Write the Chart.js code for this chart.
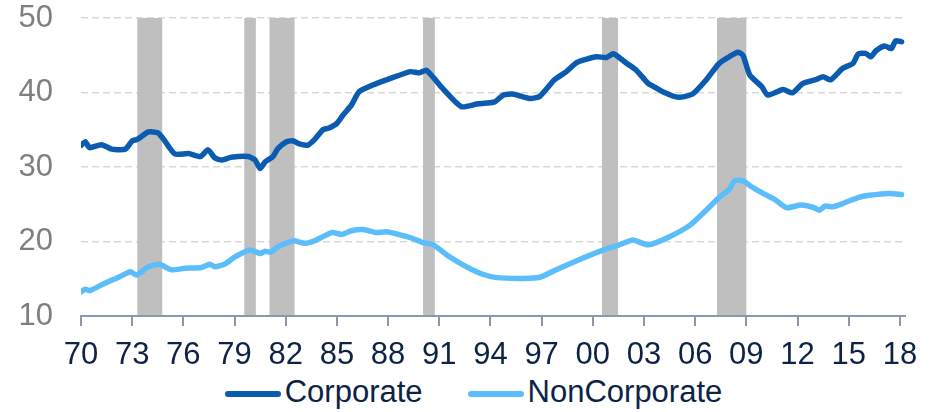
<!DOCTYPE html>
<html>
<head>
<meta charset="utf-8">
<script src="https://cdn.jsdelivr.net/npm/chart.js@4.4.1/dist/chart.umd.min.js"></script>
<style>
  html, body { margin: 0; padding: 0; background: #fff; }
  #box { position: relative; width: 929px; height: 372px; }
  #legend {
    display: flex; justify-content: center; align-items: center;
    width: 911px; height: 40px; padding-left: 18px;
    font: 31px Arial, "Liberation Sans", sans-serif; color: #0d2346;
  }
  #legend .item { display: flex; align-items: center; margin: 0 22.5px; }
  #legend .swatch { width: 56px; height: 6px; border-radius: 3px; margin-right: 4px; position: relative; top: 2px; }
</style>
</head>
<body>
<div id="box"><canvas id="chart"></canvas></div>
<div id="legend"></div>

<script>
// x ticks every 3 years
const tickYears  = [1970, 1973, 1976, 1979, 1982, 1985, 1988, 1991, 1994, 1997, 2000, 2003, 2006, 2009, 2012, 2015, 2018];
const tickLabels = ["70", "73", "76", "79", "82", "85", "88", "91", "94", "97", "00", "03", "06", "09", "12", "15", "18"];

// shaded recessions (start / end, in years)
const recStart = [1973.3, 1979.57, 1981.05, 1990.05, 2000.54, 2007.28];
const recEnd   = [1974.76, 1980.25, 1982.52, 1990.74, 2001.48, 2009.0];

// Corporate
const corpYears = [1970.0, 1970.25, 1970.5, 1971.2, 1971.8, 1972.6, 1973.0, 1973.3, 1973.95, 1974.5,
  1974.8, 1975.5, 1976.3, 1977.0, 1977.45, 1977.85, 1978.25, 1978.8, 1979.8, 1980.2,
  1980.5, 1980.8, 1981.25, 1981.55, 1982.05, 1982.45, 1982.8, 1983.3, 1983.7, 1984.2,
  1984.5, 1985.0, 1985.35, 1985.85, 1986.3, 1987.1, 1987.9, 1988.7, 1989.3, 1989.85,
  1990.25, 1991.2, 1992.3, 1993.2, 1994.25, 1994.75, 1995.3, 1996.3, 1996.9, 1997.75,
  1998.45, 1999.05, 1999.6, 2000.2, 2000.8, 2001.2, 2001.6, 2002.0, 2002.55, 2003.25,
  2003.5, 2004.1, 2005.0, 2005.85, 2006.65, 2007.4, 2008.0, 2008.5, 2008.8, 2009.2,
  2009.9, 2010.25, 2011.15, 2011.7, 2012.3, 2013.1, 2013.5, 2013.95, 2014.65, 2015.25,
  2015.55, 2016.0, 2016.3, 2016.6, 2017.1, 2017.5, 2017.75, 2018.1];
const corpVals = [32.9, 33.4, 32.6, 33.0, 32.4, 32.4, 33.5, 33.7, 34.7, 34.6,
  33.85, 31.75, 31.8, 31.4, 32.3, 31.2, 30.95, 31.3, 31.4, 30.95,
  29.8, 30.7, 31.4, 32.5, 33.4, 33.5, 33.1, 32.95, 33.7, 35.05,
  35.2, 35.85, 36.95, 38.3, 40.1, 41.0, 41.7, 42.35, 42.8, 42.65,
  43.0, 40.55, 38.1, 38.45, 38.75, 39.65, 39.8, 39.2, 39.5, 41.7,
  42.8, 44.0, 44.45, 44.8, 44.7, 45.2, 44.6, 43.9, 43.0, 41.2,
  40.9, 40.1, 39.35, 39.8, 41.7, 43.9, 44.8, 45.4, 45.0, 42.35,
  40.8, 39.65, 40.4, 39.95, 41.2, 41.75, 42.1, 41.7, 43.25, 43.9,
  45.15, 45.25, 44.8, 45.6, 46.25, 45.9, 46.95, 46.8];

// NonCorporate
const nonCorpYears = [1970.0, 1970.25, 1970.5, 1971.4, 1972.2, 1972.9, 1973.25, 1973.95, 1974.6, 1975.3,
  1976.1, 1977.05, 1977.55, 1977.85, 1978.45, 1979.0, 1979.9, 1980.5, 1980.8, 1981.1,
  1981.55, 1982.45, 1983.1, 1983.7, 1984.7, 1985.3, 1985.85, 1986.55, 1987.3, 1987.9,
  1988.7, 1989.45, 1990.05, 1990.65, 1991.6, 1992.6, 1993.55, 1994.35, 1995.9, 1996.9,
  1997.85, 1999.4, 2000.6, 2001.5, 2002.35, 2003.25, 2004.5, 2005.7, 2006.65, 2007.45,
  2008.0, 2008.3, 2008.8, 2009.3, 2010.15, 2010.65, 2011.35, 2012.2, 2012.9, 2013.3,
  2013.6, 2014.05, 2014.65, 2015.55, 2016.2, 2017.4, 2018.1];
const nonCorpVals = [13.25, 13.6, 13.4, 14.4, 15.2, 15.95, 15.5, 16.6, 16.95, 16.2,
  16.4, 16.5, 16.95, 16.6, 17.0, 17.9, 18.85, 18.4, 18.7, 18.55,
  19.3, 20.1, 19.75, 20.1, 21.2, 20.95, 21.45, 21.6, 21.2, 21.3,
  20.9, 20.4, 19.85, 19.55, 17.95, 16.6, 15.6, 15.15, 15.05, 15.2,
  16.2, 17.75, 18.85, 19.5, 20.2, 19.55, 20.65, 22.2, 24.2, 26.0,
  27.0, 28.15, 28.15, 27.35, 26.25, 25.65, 24.55, 24.9, 24.6, 24.2,
  24.75, 24.65, 25.1, 25.9, 26.2, 26.45, 26.3];

const FONT = "Arial, 'Liberation Sans', sans-serif";
const NAVY = "#0d2346";
const AXIS = "#8c96b0";

const toPoints = (xs, ys) => xs.map((x, i) => ({ x, y: ys[i] }));

// grey recession bands, drawn over the grid but under the lines
const recessionBands = {
  id: "recessionBands",
  beforeDatasetsDraw(chart) {
    const { ctx, chartArea: { top, bottom }, scales: { x } } = chart;
    ctx.save();
    ctx.fillStyle = "#bfbfbf";
    recStart.forEach((s, i) => {
      const x0 = x.getPixelForValue(s);
      const x1 = x.getPixelForValue(recEnd[i]);
      ctx.fillRect(x0, top, x1 - x0, bottom - top);
    });
    ctx.restore();
  }
};

const chart = new Chart(document.getElementById("chart"), {
  type: "line",
  data: {
    datasets: [
      {
        label: "Corporate",
        data: toPoints(corpYears, corpVals),
        borderColor: "#0b5cb0",
        backgroundColor: "#0b5cb0",
        borderWidth: 5.5,
        pointRadius: 0,
        tension: 0.2,
        borderJoinStyle: "round",
        borderCapStyle: "round"
      },
      {
        label: "NonCorporate",
        data: toPoints(nonCorpYears, nonCorpVals),
        borderColor: "#5bbefb",
        backgroundColor: "#5bbefb",
        borderWidth: 5.5,
        pointRadius: 0,
        tension: 0.2,
        borderJoinStyle: "round",
        borderCapStyle: "round"
      }
    ]
  },
  options: {
    responsive: true,
    maintainAspectRatio: false,
    animation: false,
    layout: { padding: { left: 0, right: 24, top: 18, bottom: 0 } },
    plugins: {
      legend: { display: false },
      tooltip: { enabled: false }
    },
    scales: {
      x: {
        type: "linear",
        min: 1970,
        max: 2018.3,
        afterBuildTicks: scale => { scale.ticks = tickYears.map(v => ({ value: v })); },
        afterFit: scale => { scale.height = 56; },
        ticks: {
          autoSkip: false,
          maxRotation: 0,
          padding: 11,
          color: NAVY,
          font: { family: FONT, size: 31 },
          callback: (v, i) => tickLabels[i]
        },
        grid: { drawOnChartArea: false, drawTicks: true, tickLength: 10, color: AXIS, lineWidth: 2 },
        border: { display: true, color: AXIS, width: 2, z: 1 }
      },
      y: {
        min: 10,
        max: 50,
        afterFit: scale => {
          scale.width = 81;
          scale.paddingTop = 0;
          scale.paddingBottom = 0;
        },
        ticks: {
          stepSize: 10,
          padding: 28,
          color: "#7f7f7f",
          font: { family: FONT, size: 31 }
        },
        grid: {
          drawTicks: false,
          color: ctx => (ctx.tick && ctx.tick.value === 10 ? "transparent" : "#d9d9d9"),
          lineWidth: 1.5
        },
        border: { display: false, dash: [7, 4] }
      }
    }
  },
  plugins: [recessionBands]
});

// html legend built from the datasets
const legendBox = document.getElementById("legend");
chart.data.datasets.forEach(ds => {
  const item = document.createElement("div");
  item.className = "item";
  const sw = document.createElement("span");
  sw.className = "swatch";
  sw.style.background = ds.borderColor;
  const txt = document.createElement("span");
  txt.textContent = ds.label;
  item.appendChild(sw);
  item.appendChild(txt);
  legendBox.appendChild(item);
});
</script>
</body>
</html>
